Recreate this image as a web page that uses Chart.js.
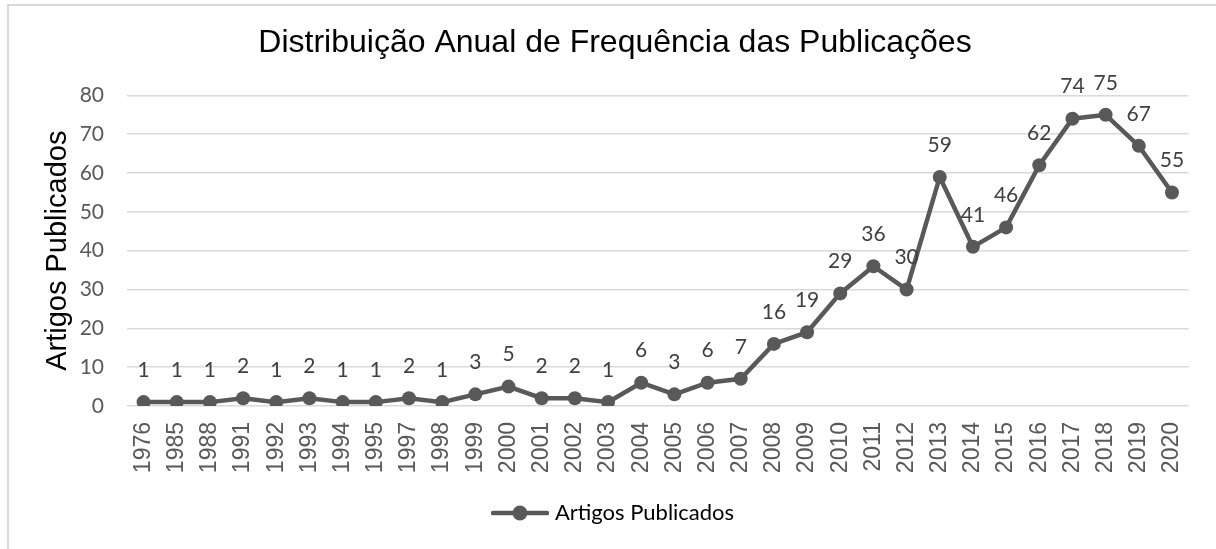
<!DOCTYPE html>
<html>
<head>
<meta charset="utf-8">
<script src="https://cdn.jsdelivr.net/npm/chart.js@4"></script>
<style>
  html, body { margin: 0; padding: 0; background: #fff; overflow: hidden; }
  #frame { position: absolute; left: 7px; top: 4px; width: 1400px; height: 800px; border: 2px solid #d9d9d9; box-sizing: border-box; }
  #wrap { position: absolute; left: 0; top: 0; width: 1216px; height: 549px; }
</style>
</head>
<body>
<div id="frame"></div>
<div id="wrap"><canvas id="c" width="1216" height="549"></canvas></div>
<script>
const years = ['1976','1985','1988','1991','1992','1993','1994','1995','1997','1998','1999','2000','2001','2002','2003','2004','2005','2006','2007','2008','2009','2010','2011','2012','2013','2014','2015','2016','2017','2018','2019','2020'];
const artigos = [1,1,1,2,1,2,1,1,2,1,3,5,2,2,1,6,3,6,7,16,19,29,36,30,59,41,46,62,74,75,67,55];
const yTicks = [0,10,20,30,40,50,60,70,80];
const chartTitle = 'Distribuição Anual de Frequência das Publicações';
const seriesName = 'Artigos Publicados';
const axisTitle = 'Artigos Publicados';

const LINE = '#595959';

// legend marker: line with a circle
const marker = document.createElement('canvas');
marker.width = 58; marker.height = 20;
(function(){
  const g = marker.getContext('2d');
  g.strokeStyle = LINE; g.lineWidth = 4.5; g.lineCap = 'round';
  g.beginPath(); g.moveTo(2, 10); g.lineTo(56, 10); g.stroke();
  g.fillStyle = LINE;
  g.beginPath(); g.arc(29, 10, 7.5, 0, Math.PI * 2); g.fill();
})();

const dataLabels = {
  id: 'dataLabels',
  afterDatasetsDraw(chart) {
    const ctx = chart.ctx;
    const meta = chart.getDatasetMeta(0);
    ctx.save();
    ctx.font = '21px Lato';
    ctx.fillStyle = '#404040';
    ctx.textAlign = 'center';
    ctx.textBaseline = 'middle';
    meta.data.forEach((pt, i) => {
      ctx.fillText(String(chart.data.datasets[0].data[i]), pt.x, pt.y - 32);
    });
    ctx.restore();
  }
};

new Chart(document.getElementById('c'), {
  type: 'line',
  data: {
    labels: years,
    datasets: [{
      label: seriesName,
      data: artigos,
      borderColor: LINE,
      backgroundColor: LINE,
      borderWidth: 4.5,
      pointRadius: 7,
      pointBorderWidth: 0,
      pointBackgroundColor: LINE,
      tension: 0,
      fill: false
    }]
  },
  options: {
    responsive: false,
    animation: false,
    events: [],
    layout: { padding: { left: 41, right: 27, top: 0, bottom: 15 } },
    plugins: {
      title: {
        display: true,
        text: chartTitle,
        color: '#000000',
        font: { family: 'Liberation Sans', size: 32, weight: 'normal' },
        padding: { top: 24, bottom: 33 }
      },
      legend: {
        display: true,
        position: 'bottom',
        labels: {
          usePointStyle: true,
          pointStyleWidth: 48,
          boxHeight: 20,
          color: '#595959',
          font: { family: 'Lato', size: 22 },
          padding: 10,
          generateLabels(chart) {
            return [{ text: seriesName, pointStyle: marker, fillStyle: LINE, strokeStyle: LINE, lineWidth: 0, hidden: false, datasetIndex: 0 }];
          }
        }
      },
      tooltip: { enabled: false }
    },
    scales: {
      x: {
        offset: true,
        grid: { display: false, drawTicks: false },
        border: { display: false },
        ticks: {
          autoSkip: false, maxRotation: 90, minRotation: 90,
          padding: 16,
          color: '#595959',
          font: { family: 'Liberation Sans', size: 23 }
        },
        afterFit(scale) { scale.height = 86; }
      },
      y: {
        min: 0, max: 80,
        afterBuildTicks(scale) { scale.ticks = yTicks.map(v => ({ value: v })); },
        grid: { color: '#d9d9d9', lineWidth: 1.5, drawTicks: false },
        border: { display: false },
        ticks: {
          padding: 23,
          color: '#595959',
          font: { family: 'Lato', size: 21 }
        },
        title: {
          display: true,
          text: axisTitle,
          color: '#000000',
          font: { family: 'Liberation Sans', size: 29 },
          padding: { top: 0, bottom: 0 }
        },
        afterFit(scale) { scale.width = 86; }
      }
    }
  },
  plugins: [dataLabels]
});
</script>
</body>
</html>
